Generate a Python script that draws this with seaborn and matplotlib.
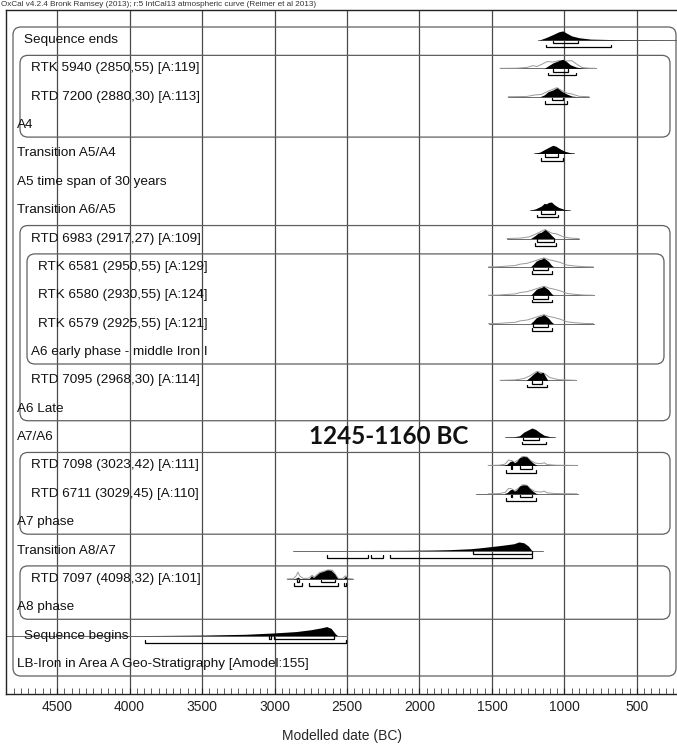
import matplotlib
matplotlib.use("Agg")
import numpy as np
import pandas as pd
import matplotlib.pyplot as plt
from matplotlib.patches import FancyBboxPatch
from matplotlib.ticker import MultipleLocator
import seaborn as sns

sns.set_style("white")
plt.rcParams["font.family"] = ["Liberation Sans", "DejaVu Sans"]

# ---------------------------------------------------------------
# TEXT
# ---------------------------------------------------------------
HEADER = "OxCal v4.2.4 Bronk Ramsey (2013); r:5 IntCal13 atmospheric curve (Reimer et al 2013)"
XLABEL = "Modelled date (BC)"
HIGHLIGHT = "1245-1160 BC"

LABELS = [
    "Sequence ends",
    "RTK 5940 (2850,55) [A:119]",
    "RTD 7200 (2880,30) [A:113]",
    "A4",
    "Transition A5/A4",
    "A5 time span of 30 years",
    "Transition A6/A5",
    "RTD 6983 (2917,27) [A:109]",
    "RTK 6581 (2950,55) [A:129]",
    "RTK 6580 (2930,55) [A:124]",
    "RTK 6579 (2925,55) [A:121]",
    "A6 early phase - middle Iron I",
    "RTD 7095 (2968,30) [A:114]",
    "A6 Late",
    "A7/A6",
    "RTD 7098 (3023,42) [A:111]",
    "RTD 6711 (3029,45) [A:110]",
    "A7 phase",
    "Transition A8/A7",
    "RTD 7097 (4098,32) [A:101]",
    "A8 phase",
    "Sequence begins",
    "LB-Iron in Area A Geo-Stratigraphy [Amodel:155]",
]

# groups drawn as rounded boxes: (first row, last row, nesting depth)
GROUPS = [(0, 22, 0), (1, 3, 1), (7, 13, 1), (8, 11, 2), (15, 17, 1), (19, 20, 1)]

# ---------------------------------------------------------------
# DATA  (dates in years BC, heights relative to the tallest peak)
# ---------------------------------------------------------------
ENDS_POST = [(1175, 0), (1130, .25), (1080, .6), (1040, .9), (1012, 1.0), (985, .75),
             (950, .45), (900, .25), (820, .1), (650, .04), (400, .015), (224, .005)]

RTK5940_PRIOR = [(1445, 0), (1330, .02), (1260, .1), (1217, .3), (1190, .2), (1150, .5),
                 (1120, .75), (1080, .7), (1040, .85), (995, .8), (950, .85), (910, .4),
                 (880, .1), (830, .02), (783, 0)]
RTK5940_POST = [(1140, 0), (1110, .3), (1080, .6), (1040, .85), (1012, 1.0), (990, .8),
                (960, .4), (920, .15), (870, 0)]

RTD7200_PRIOR = [(1389, 0), (1260, .03), (1203, .2), (1160, .25), (1114, .6), (1052, 1.0),
                 (1010, .6), (983, .4), (948, .3), (900, .05), (831, 0)]
RTD7200_POST = [(1170, 0), (1140, .2), (1114, .55), (1080, .75), (1052, 1.0), (1020, .6),
                (985, .3), (950, .08), (910, 0)]

T_A5A4_POST = [(1210, 0), (1170, .15), (1130, .5), (1100, .75), (1080, .9), (1060, .8),
               (1030, .5), (1000, .25), (960, .08), (934, 0)]

T_A6A5_POST = [(1238, 0), (1200, .15), (1160, .45), (1140, .75), (1125, .7), (1110, .85),
               (1090, .9), (1070, .6), (1040, .3), (1000, .08), (962, 0)]

RTD6983_PRIOR = [(1396, 0), (1300, .05), (1240, .2), (1190, .55), (1134, 1.0), (1090, .6),
                 (1052, .5), (1010, .2), (960, .05), (900, 0)]
RTD6983_POST = [(1235, 0), (1205, .3), (1182, .6), (1160, .7), (1134, 1.0), (1110, .7),
                (1086, .3), (1065, 0)]

RTK658X_PRIOR = [(1525, 0), (1450, .03), (1389, .1), (1340, .15), (1307, .3), (1258, .4),
                 (1217, .6), (1180, .8), (1141, 1.0), (1110, .8), (1079, .7), (1031, .5),
                 (983, .2), (927, .1), (870, .03), (800, 0)]
RTK658X_POST = [(1235, 0), (1215, .3), (1195, .65), (1175, .8), (1160, .85), (1145, 1.0),
                (1130, .85), (1110, .6), (1090, .2), (1075, 0)]

RTD7095_PRIOR = [(1445, 0), (1340, .05), (1280, .2), (1238, .5), (1210, .8), (1189, 1.0),
                 (1160, .85), (1134, .7), (1100, .3), (1040, .08), (920, 0)]
RTD7095_POST = [(1265, 0), (1238, .35), (1215, .7), (1189, 1.0), (1168, .8), (1148, .9),
                (1130, .4), (1115, 0)]

A7A6_POST = [(1410, 0), (1350, .03), (1310, .15), (1280, .55), (1250, .8), (1225, 1.0),
             (1200, .85), (1170, .5), (1140, .2), (1100, .05), (1065, 0)]

RTD709X_PRIOR = [(1527, 0), (1450, .03), (1410, .15), (1385, .6), (1365, .55), (1345, .35),
                 (1320, .6), (1290, 1.0), (1260, .95), (1230, .5), (1200, .25), (1160, .2),
                 (1140, .3), (1120, .1), (1060, .03), (914, 0)]
RTD709X_POST = [(1420, 0), (1395, .15), (1375, .45), (1360, .5), (1345, .3), (1330, .45),
                (1310, .85), (1285, 1.0), (1260, .95), (1240, .6), (1215, .25), (1195, .05),
                (1180, 0)]

T_A8A7_POST = [(2740, 0), (2400, .01), (2100, .03), (1900, .06), (1790, .1), (1650, .2),
               (1583, .3), (1500, .45), (1445, .55), (1396, .65), (1350, .75), (1314, .95),
               (1280, .85), (1250, .5), (1225, 0)]

RTD7097_PRIOR = [(2914, 0), (2870, .02), (2850, .35), (2838, .75), (2825, .3), (2800, .05),
                 (2760, .1), (2741, .4), (2725, .2), (2705, .5), (2690, .7), (2660, .85),
                 (2630, 1.0), (2600, .95), (2580, .5), (2560, .05), (2530, .05), (2510, .35),
                 (2495, .05), (2459, 0)]
RTD7097_POST = [(2870, 0), (2850, .1), (2838, .2), (2825, .05), (2760, .05), (2745, .35),
                (2730, .15), (2705, .5), (2690, .7), (2660, .85), (2635, 1.0), (2610, .95),
                (2585, .55), (2565, .05), (2525, .05), (2510, .3), (2495, 0)]

BEGINS_POST = [(4100, 0), (3800, .02), (3500, .06), (3200, .15), (3000, .3), (2850, .45),
               (2750, .65), (2680, .85), (2640, 1.0), (2610, .8), (2580, .2), (2565, 0)]

# row -> (prior, posterior, baseline span, 68.2% ranges, 95.4% ranges)
ROWS = {
    0: (None, ENDS_POST, (1180, 224), [(1079, 907)], [(1127, 679)]),
    1: (RTK5940_PRIOR, RTK5940_POST, (1445, 783), [(1079, 976)], [(1114, 920)]),
    2: (RTD7200_PRIOR, RTD7200_POST, (1389, 831), [(1086, 1010)], [(1134, 983)]),
    4: (None, T_A5A4_POST, (1210, 934), [(1134, 1045)], [(1162, 1010)]),
    6: (None, T_A6A5_POST, (1238, 962), [(1162, 1065)], [(1189, 1045)]),
    7: (RTD6983_PRIOR, RTD6983_POST, (1396, 900), [(1190, 1075)], [(1205, 1058)]),
    8: (RTK658X_PRIOR, RTK658X_POST, (1527, 803), [(1217, 1114)], [(1224, 1086)]),
    9: (RTK658X_PRIOR, RTK658X_POST, (1520, 796), [(1217, 1114)], [(1224, 1086)]),
    10: (RTK658X_PRIOR, RTK658X_POST, (1520, 796), [(1217, 1114)], [(1224, 1086)]),
    12: (RTD7095_PRIOR, RTD7095_POST, (1445, 920), [(1224, 1155)], [(1258, 1120)]),
    14: (None, A7A6_POST, (1410, 1065), [(1286, 1176)], [(1293, 1127)]),
    15: (RTD709X_PRIOR, RTD709X_POST, (1527, 914), [(1372, 1364), (1307, 1224)], [(1403, 1196)]),
    16: (RTD709X_PRIOR, RTD709X_POST, (1610, 907), [(1372, 1364), (1307, 1224)], [(1403, 1196)]),
    18: (None, T_A8A7_POST, (2872, 1148), [(1631, 1224)],
         [(2638, 2355), (2334, 2252), (2203, 1224)]),
    19: (RTD7097_PRIOR, RTD7097_POST, (2914, 2459), [(2845, 2832), (2680, 2580)],
         [(2865, 2810), (2762, 2562), (2521, 2507)]),
    21: (None, BEGINS_POST, (4893, 2500), [(3035, 3025), (3003, 2590)], [(3893, 2507)]),
}

# ---------------------------------------------------------------
# LAYOUT (pixels)
# ---------------------------------------------------------------
W, H = 677, 744
ROW0, ROW_STEP = 40.0, 28.364
AX_LEFT, AX_TOP, AX_BOTTOM = 6, 10, 694
LABEL_X = [24, 31, 31, 17, 17, 17, 17, 31, 38, 38, 38, 31, 31, 17,
           17, 31, 31, 17, 17, 31, 17, 24, 17]
BOX_LEFT = {0: 13, 1: 20, 2: 27}
BOX_RIGHT = {0: 676, 1: 670, 2: 664}
HS = 0.32          # peak height in rows
OFF68, OFF95, TICK = 0.12, 0.25, 0.09


def row_px(i):
    return ROW0 + ROW_STEP * i


fig = plt.figure(figsize=(W / 100, H / 100), dpi=100)
ax = fig.add_axes([AX_LEFT / W, 1 - AX_BOTTOM / H, (W - AX_LEFT) / W, (AX_BOTTOM - AX_TOP) / H])

# prior outlines through seaborn
prior_frames = []
for r, (prior, post, span, r68, r95) in ROWS.items():
    if prior is None:
        continue
    d = np.array(prior, dtype=float)
    prior_frames.append(pd.DataFrame({"date": d[:, 0], "y": r - d[:, 1] * HS, "row": r}))
prior_df = pd.concat(prior_frames, ignore_index=True)
sns.lineplot(data=prior_df, x="date", y="y", units="row", estimator=None, sort=False,
             color="#999999", lw=0.7, ax=ax, zorder=3)

for r, (prior, post, span, r68, r95) in ROWS.items():
    ax.plot(span, [r, r], color="#6a6a6a", lw=0.7, zorder=2)
    p = np.array(post, dtype=float)
    ax.fill_between(p[:, 0], r, r - p[:, 1] * HS, color="black", lw=0, zorder=4)
    for off, ranges in ((OFF68, r68), (OFF95, r95)):
        y = r + off
        for a, b in ranges:
            ax.plot([a, a, b, b], [y - TICK, y, y, y - TICK], color="black", lw=0.9,
                    solid_joinstyle="miter", zorder=4)

ax.set_xlim(4500 + (57 - AX_LEFT) * 6.897, 500 - (W - 637) * 6.897)
ax.set_ylim((AX_BOTTOM - ROW0) / ROW_STEP, (AX_TOP - ROW0) / ROW_STEP)
ax.xaxis.set_major_locator(MultipleLocator(500))
ax.xaxis.set_minor_locator(MultipleLocator(50))
ax.tick_params(axis="x", which="major", direction="in", length=4, width=0.8,
               bottom=True, labelsize=10, pad=4, colors="#222")
ax.tick_params(axis="x", which="minor", direction="in", length=4, width=0.6,
               bottom=True, colors="#444")
ax.set_yticks([])
ax.grid(axis="x", which="major", color="#4a4a4a", lw=0.9)
ax.set_axisbelow(True)
ax.set_xlabel(XLABEL, fontsize=10, labelpad=11)
ax.set_ylabel("")
for side in ("left", "top", "bottom"):
    ax.spines[side].set_color("#222")
    ax.spines[side].set_linewidth(1.0)
ax.spines["right"].set_visible(False)

# overlay in pixel units for boxes and labels
ov = fig.add_axes([0, 0, 1, 1], zorder=5)
ov.set_xlim(0, W)
ov.set_ylim(H, 0)
ov.axis("off")
ov.patch.set_alpha(0)

for first, last, depth in GROUPS:
    top = row_px(first) - 13
    bot = row_px(last) + 12
    x0, x1 = BOX_LEFT[depth], BOX_RIGHT[depth]
    ov.add_patch(FancyBboxPatch((x0, top), x1 - x0, bot - top,
                                boxstyle="round,pad=0,rounding_size=8",
                                fc="none", ec="#606060", lw=0.9))

for i, lab in enumerate(LABELS):
    ov.text(LABEL_X[i], row_px(i), lab, fontsize=9.7, va="center", ha="left", color="#111")

ov.text(389, 437, HIGHLIGHT, fontsize=17.5, fontweight="bold", family=["Lato", "DejaVu Sans"],
        ha="center", va="center", color="#111")
ov.text(1, 4.5, HEADER, fontsize=5.9, va="center", ha="left", color="#333")

fig.savefig("out.png", dpi=100)
